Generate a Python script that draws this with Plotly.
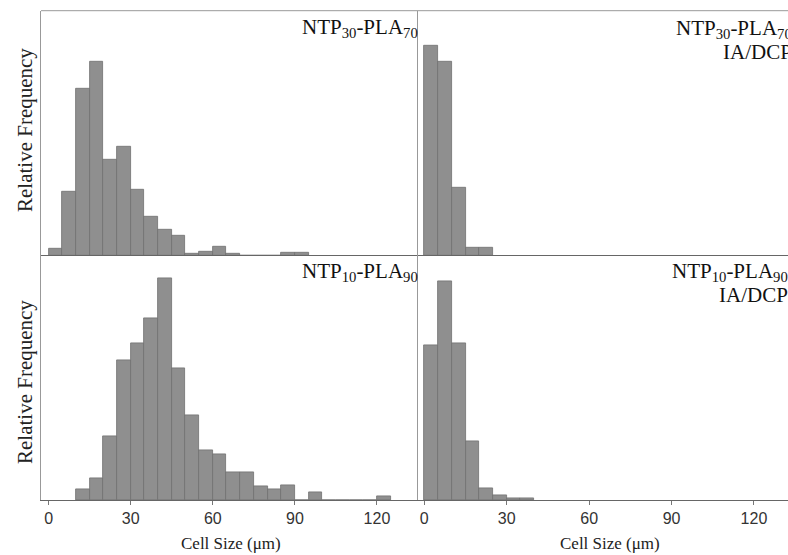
import plotly.graph_objects as go

# ---------------- data (relative frequency, %, per 5 µm bin; bin start values) ----------------
bin_width = 5

tl_bins = [0, 5, 10, 15, 20, 25, 30, 35, 40, 45, 50, 55, 60, 65, 70, 75, 80, 85, 90]
tl_freq = [0.8, 7.9, 20.9, 24.2, 11.9, 13.6, 8.2, 4.8, 3.2, 2.5, 0.2, 0.5, 1.1, 0.2, 0, 0, 0, 0.3, 0.3]

tr_bins = [0, 5, 10, 15, 20]
tr_freq = [43.2, 39.8, 13.8, 1.6, 1.6]

bl_bins = [10, 15, 20, 25, 30, 35, 40, 45, 50, 55, 60, 65, 70, 75, 80, 85, 90, 95, 100, 105, 110, 115, 120]
bl_freq = [0.9, 1.8, 5.3, 11.5, 12.9, 15.0, 18.3, 10.9, 7.0, 4.1, 3.8, 2.3, 2.3, 1.1, 0.9, 1.2, 0, 0.6, 0, 0, 0, 0, 0.3]

br_bins = [0, 5, 10, 15, 20, 25, 30, 35]
br_freq = [25.4, 35.9, 25.8, 9.6, 2.0, 0.7, 0.3, 0.3]

tick_vals = [0, 30, 60, 90, 120]
tick_text = ["0", "30", "60", "90", "120"]

titles_top = ["NTP<sub>30</sub>-PLA<sub>70</sub>", "NTP<sub>30</sub>-PLA<sub>70</sub>"]
titles_bot = ["NTP<sub>10</sub>-PLA<sub>90</sub>", "NTP<sub>10</sub>-PLA<sub>90</sub>"]
sub_label = "IA/DCP"
x_title = "Cell Size (μm)"
y_title = "Relative Frequency"

# ---------------- layout geometry ----------------
W, H = 788, 555
def px(x):
    return x / W
def py(y):
    return 1 - y / H

x_left = [px(41), px(418)]
x_right = [px(418), 1.0]
y_top = [py(255.3), py(10.7)]
y_bot = [py(500), py(255.3)]

bar_fill = "#8f8f8f"
bar_line = "#707070"

fig = go.Figure()

def add_hist(bins, freq, xa, ya):
    fig.add_trace(go.Bar(
        x=bins, y=freq, width=bin_width, offset=0,
        marker=dict(color=bar_fill, line=dict(color=bar_line, width=0.8)),
        xaxis=xa, yaxis=ya, showlegend=False, hoverinfo="x+y",
    ))

add_hist(tl_bins, tl_freq, "x", "y")
add_hist(tr_bins, tr_freq, "x2", "y2")
add_hist(bl_bins, bl_freq, "x3", "y3")
add_hist(br_bins, br_freq, "x4", "y4")

tick_font = dict(family="Liberation Sans, Arial, sans-serif", size=16, color="#333333")

def xaxis(domain, anchor, rng, labels):
    d = dict(
        domain=domain, anchor=anchor, range=rng,
        showgrid=False, zeroline=False, automargin=False,
        showline=True, linecolor="#666666", linewidth=1,
        ticks="outside" if labels else "", ticklen=4, tickcolor="#777777",
        showticklabels=labels,
    )
    if labels:
        d.update(tickvals=tick_vals, ticktext=tick_text, tickfont=tick_font)
    return d

def yaxis(domain, anchor, rng):
    return dict(
        domain=domain, anchor=anchor, range=rng,
        showgrid=False, zeroline=False, automargin=False,
        showline=True, linecolor="#999999", linewidth=1,
        showticklabels=False, ticks="",
    )

left_range = [-2.8, 135.0]
right_range = [-2.3, 132.4]

fig.update_layout(
    width=W, height=H,
    margin=dict(l=0, r=0, t=0, b=0),
    paper_bgcolor="white", plot_bgcolor="white",
    bargap=0,
    xaxis=xaxis(x_left, "y", left_range, False),
    yaxis=yaxis(y_top, "x", [0, 30.6]),
    xaxis2=xaxis(x_right, "y2", right_range, False),
    yaxis2=yaxis(y_top, "x2", [0, 50.3]),
    xaxis3=xaxis(x_left, "y3", left_range, True),
    yaxis3=yaxis(y_bot, "x3", [0, 20.2]),
    xaxis4=xaxis(x_right, "y4", right_range, True),
    yaxis4=yaxis(y_bot, "x4", [0, 40.2]),
)

# top frame line
fig.add_shape(type="line", xref="paper", yref="paper",
              x0=px(41), x1=1.0, y0=py(10.7), y1=py(10.7),
              line=dict(color="#999999", width=1))

serif = "Liberation Serif, Times New Roman, serif"
lab_font = dict(family=serif, size=21, color="#111111")
ann = []
# panel labels
ann.append(dict(x=px(420), y=py(28), text=titles_top[0], xanchor="right", yanchor="middle", font=lab_font))
ann.append(dict(x=px(794), y=py(28.5), text=titles_top[1], xanchor="right", yanchor="middle", font=lab_font))
ann.append(dict(x=px(794), y=py(52), text=sub_label, xanchor="right", yanchor="middle", font=lab_font))
ann.append(dict(x=px(420), y=py(272), text=titles_bot[0], xanchor="right", yanchor="middle", font=lab_font))
ann.append(dict(x=px(790), y=py(272), text=titles_bot[1], xanchor="right", yanchor="middle", font=lab_font))
ann.append(dict(x=px(790), y=py(295), text=sub_label, xanchor="right", yanchor="middle", font=lab_font))
# axis titles
ann.append(dict(x=px(231), y=py(543), text=x_title, xanchor="center", yanchor="middle",
                font=dict(family=serif, size=17, color="#222222")))
ann.append(dict(x=px(610), y=py(543), text=x_title, xanchor="center", yanchor="middle",
                font=dict(family=serif, size=17, color="#222222")))
ann.append(dict(x=px(25), y=py(130), text=y_title, textangle=-90, xanchor="center", yanchor="middle",
                font=dict(family=serif, size=21, color="#222222")))
ann.append(dict(x=px(25), y=py(382), text=y_title, textangle=-90, xanchor="center", yanchor="middle",
                font=dict(family=serif, size=21, color="#222222")))

for a in ann:
    a.update(xref="paper", yref="paper", showarrow=False)
    fig.add_annotation(**a)

# remove the page's default body margin so the figure fills the window exactly
fig.write_html("out.html",
               config={"displayModeBar": False},
               post_script="document.body.style.margin='0';document.body.style.overflow='hidden';")
